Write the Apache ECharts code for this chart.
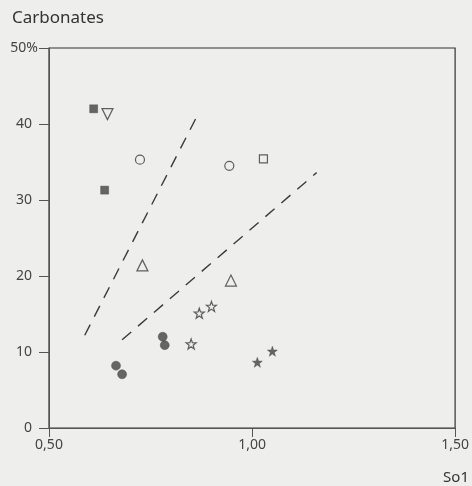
<!DOCTYPE html>
<html>
<head>
<meta charset="utf-8">
<script src="https://cdn.jsdelivr.net/npm/echarts@6/dist/echarts.min.js"></script>
<style>
html,body{margin:0;padding:0;background:#eeeeec;}
#c{width:472px;height:486px;}
</style>
</head>
<body>
<div id="c"></div>
<script>
var filledSquares = [[0.61, 42.0], [0.637, 31.3]];
var invTriangles = [[0.644, 41.3]];
var openCircles = [[0.724, 35.3], [0.944, 34.5]];
var openSquares = [[1.028, 35.4]];
var openTriangles = [[0.73, 21.4], [0.948, 19.4]];
var openStars = [[0.87, 15.1], [0.90, 16.0], [0.85, 11.05]];
var filledCircles = [[0.78, 12.0], [0.785, 10.9], [0.665, 8.2], [0.68, 7.07]];
var filledStars = [[1.013, 8.64], [1.05, 10.1]];
var line1 = [[0.588, 12.2], [0.868, 41.4]];
var line2 = [[0.68, 11.6], [1.159, 33.6]];
var yTicks = [0, 10, 20, 30, 40, 50];
var xTicks = [0.5, 1.0, 1.5];

var BG = '#eeeeec';
var INK = '#3a3a3a';
var FILL = '#424242';
var STAR = 'path://M0,-10 L2.35,-3.24 L9.51,-3.09 L3.8,1.24 L5.88,8.09 L0,4 L-5.88,8.09 L-3.8,1.24 L-9.51,-3.09 L-2.35,-3.24 Z';

function scatter(data, symbol, size, filled, rotate) {
  return {
    type: 'scatter', data: data, symbol: symbol, symbolSize: size,
    symbolRotate: rotate || 0,
    itemStyle: filled ? {color: FILL, borderColor: FILL, borderWidth: 0.5}
                      : {color: BG, borderColor: INK, borderWidth: 1.2},
    emphasis: {disabled: true}, z: 3
  };
}
function dashed(data) {
  return {
    type: 'line', data: data, symbol: 'none',
    lineStyle: {color: INK, width: 1.4, type: [12, 9]},
    z: 2
  };
}

var chart = echarts.init(document.getElementById('c'));
chart.setOption({
  backgroundColor: BG,
  animation: false,
  grid: {left: 49, right: 13, top: 48, bottom: 58, show: true,
         borderColor: '#333', borderWidth: 1.2, backgroundColor: 'transparent'},
  xAxis: {
    type: 'value', min: 0.5, max: 1.5, interval: 0.5,
    axisLine: {show: true, lineStyle: {color: '#555', width: 1}},
    axisTick: {show: true, length: 9, lineStyle: {color: '#555'}},
    axisLabel: {color: '#444', fontSize: 14, fontFamily: 'Noto Sans', margin: 10,
      formatter: function (v) { return xTicks.indexOf(v) >= 0 ? v.toFixed(2).replace('.', ',') : ''; }},
    splitLine: {show: false}
  },
  yAxis: {
    type: 'value', min: 0, max: 50, interval: 10,
    axisLine: {show: true, lineStyle: {color: '#555', width: 1}},
    axisTick: {show: true, inside: false, length: 10, lineStyle: {color: '#555'}},
    axisLabel: {color: '#444', fontSize: 14, fontFamily: 'Noto Sans', margin: 17,
      formatter: function (v) { return yTicks.indexOf(v) >= 0 ? (v === 50 ? '{p|50%}' : String(v)) : ''; },
      rich: {p: {fontSize: 14, fontFamily: 'Noto Sans', color: '#444', padding: [0, -6, 0, 0]}}},
    splitLine: {show: false}
  },
  graphic: [
    {type: 'text', left: 12, top: 10, style: {text: 'Carbonates', fill: '#333', font: '17px "Noto Sans"'}},
    {type: 'text', right: 3, top: 470, style: {text: 'So1', fill: '#333', font: '15px "Noto Sans"'}}
  ],
  series: [
    dashed(line1),
    dashed(line2),
    scatter(filledSquares, 'rect', 8, true),
    scatter(invTriangles, 'triangle', 11, false, 180),
    scatter(openCircles, 'circle', 9, false),
    scatter(openSquares, 'rect', 8, false),
    scatter(openTriangles, 'triangle', 11, false),
    scatter(openStars, STAR, 10, false),
    scatter(filledCircles, 'circle', 9, true),
    scatter(filledStars, STAR, 10, true)
  ]
});
</script>
</body>
</html>
